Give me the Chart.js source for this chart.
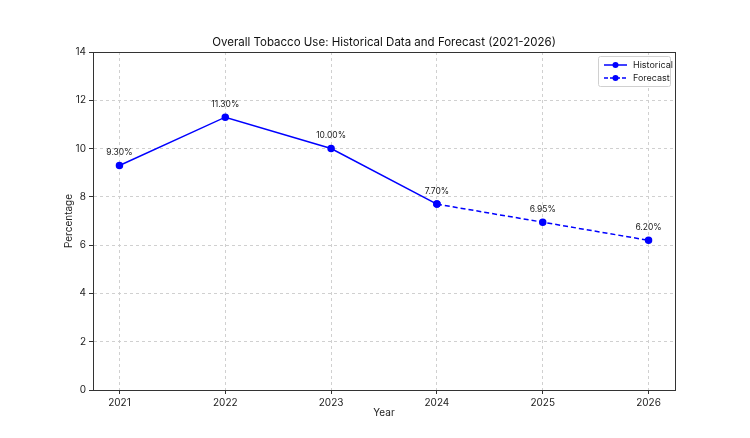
<!DOCTYPE html>
<html>
<head>
<meta charset="utf-8">
<script src="https://cdn.jsdelivr.net/npm/chart.js@4.4.1/dist/chart.umd.min.js"></script>
<style>
  html, body { margin: 0; padding: 0; background: #fff; }
  #wrap { width: 750px; height: 438px; position: relative; }
</style>
</head>
<body>
<div id="wrap"><canvas id="chart" width="750" height="438"></canvas></div>
<script>
(function() {
	'use strict';

	// Data
	const years = [2021, 2022, 2023, 2024, 2025, 2026];
	const historicalYears = [2021, 2022, 2023, 2024];
	const historicalValues = [9.3, 11.3, 10.0, 7.7];
	const forecastYears = [2024, 2025, 2026];
	const forecastValues = [7.7, 6.95, 6.2];
	const yTicks = [0, 2, 4, 6, 8, 10, 12, 14];

	const FONT = 'Inter, "Noto Sans", "DejaVu Sans", sans-serif';
	const BLUE = '#0000ff';

	function toPoints(xs, ys) {
		return xs.map(function(x, i) { return { x: x, y: ys[i] }; });
	}

	/**
	 * Frame, title, point labels and legend drawn on the canvas
	 */
	const decorations = {
		id: 'decorations',
		afterDatasetsDraw: function(chart) {
			const ctx = chart.ctx;
			const area = chart.chartArea;
			ctx.save();

			// full frame
			ctx.strokeStyle = '#333';
			ctx.lineWidth = 1;
			ctx.setLineDash([]);
			ctx.strokeRect(Math.round(area.left) + 0.5, Math.round(area.top) + 0.5,
				Math.round(area.right - area.left), Math.round(area.bottom - area.top));

			// value labels
			ctx.fillStyle = '#222';
			ctx.font = '8.5px ' + FONT;
			ctx.textAlign = 'center';
			ctx.textBaseline = 'middle';
			chart.data.datasets.forEach(function(ds, di) {
				const meta = chart.getDatasetMeta(di);
				meta.data.forEach(function(pt, i) {
					if (di === 1 && i === 0) return;
					ctx.fillText(ds.data[i].y.toFixed(2) + '%', pt.x, pt.y - 13);
				});
			});

			// title
			ctx.font = '11.5px ' + FONT;
			ctx.fillStyle = '#111';
			ctx.fillText('Overall Tobacco Use: Historical Data and Forecast (2021-2026)', (area.left + area.right) / 2, 43);

			// legend
			const bx = area.right - 77, by = area.top + 4, bw = 72, bh = 30;
			ctx.fillStyle = 'rgba(255,255,255,0.85)';
			ctx.strokeStyle = '#d0d0d0';
			ctx.beginPath();
			ctx.roundRect(bx + 0.5, by + 0.5, bw, bh, 2);
			ctx.fill();
			ctx.stroke();
			const rows = [
				{ label: 'Historical', dash: [] },
				{ label: 'Forecast', dash: [4, 2] }
			];
			rows.forEach(function(r, i) {
				const y = by + 9 + i * 13;
				ctx.strokeStyle = BLUE;
				ctx.lineWidth = 1.5;
				ctx.setLineDash(r.dash);
				ctx.beginPath();
				ctx.moveTo(bx + 6, y);
				ctx.lineTo(bx + 29, y);
				ctx.stroke();
				ctx.setLineDash([]);
				ctx.fillStyle = BLUE;
				ctx.beginPath();
				ctx.arc(bx + 17.5, y, 3, 0, Math.PI * 2);
				ctx.fill();
				ctx.fillStyle = '#222';
				ctx.font = '9px ' + FONT;
				ctx.textAlign = 'left';
				ctx.fillText(r.label, bx + 35, y);
			});
			ctx.restore();
		}
	};

	const gridOpts = {
		color: '#d0d0d0',
		tickBorderDash: [],
		tickColor: '#333',
		tickLength: 4
	};

	const ctx = document.getElementById('chart').getContext('2d');
	new Chart(ctx, {
		type: 'line',
		data: {
			datasets: [
				{
					label: 'Historical',
					data: toPoints(historicalYears, historicalValues),
					borderColor: BLUE,
					backgroundColor: BLUE,
					borderWidth: 1.5,
					pointRadius: 3,
					pointHoverRadius: 3,
					tension: 0
				},
				{
					label: 'Forecast',
					data: toPoints(forecastYears, forecastValues),
					borderColor: BLUE,
					backgroundColor: BLUE,
					borderWidth: 1.5,
					borderDash: [5, 3],
					pointRadius: 3,
					pointHoverRadius: 3,
					tension: 0
				}
			]
		},
		options: {
			responsive: false,
			animation: false,
			layout: { padding: { top: 52, right: 75, bottom: 15, left: 59 } },
			plugins: {
				legend: { display: false },
				title: { display: false },
				tooltip: { enabled: false }
			},
			scales: {
				x: {
					type: 'linear',
					min: 2020.75,
					max: 2026.25,
					afterBuildTicks: function(scale) {
						scale.ticks = years.map(function(v) { return { value: v }; });
					},
					afterFit: function(scale) { scale.height = 33; },
					ticks: {
						color: '#222',
						font: { family: FONT, size: 10 },
						padding: 3,
						callback: function(v) { return String(v); }
					},
					grid: gridOpts,
					border: { color: '#333', width: 1, dash: [3, 3] },
					title: {
						display: true,
						text: 'Year',
						color: '#222',
						font: { family: FONT, size: 10 },
						padding: { top: 0 }
					}
				},
				y: {
					min: 0,
					max: 14,
					afterBuildTicks: function(scale) {
						scale.ticks = yTicks.map(function(v) { return { value: v }; });
					},
					afterFit: function(scale) { scale.width = 34; },
					ticks: {
						color: '#222',
						font: { family: FONT, size: 10 },
						padding: 3
					},
					grid: gridOpts,
					border: { color: '#333', width: 1, dash: [3, 3] },
					title: {
						display: true,
						text: 'Percentage',
						color: '#222',
						font: { family: FONT, size: 10 },
						padding: { bottom: 2 }
					}
				}
			}
		},
		plugins: [decorations]
	});
})();
</script>
</body>
</html>
